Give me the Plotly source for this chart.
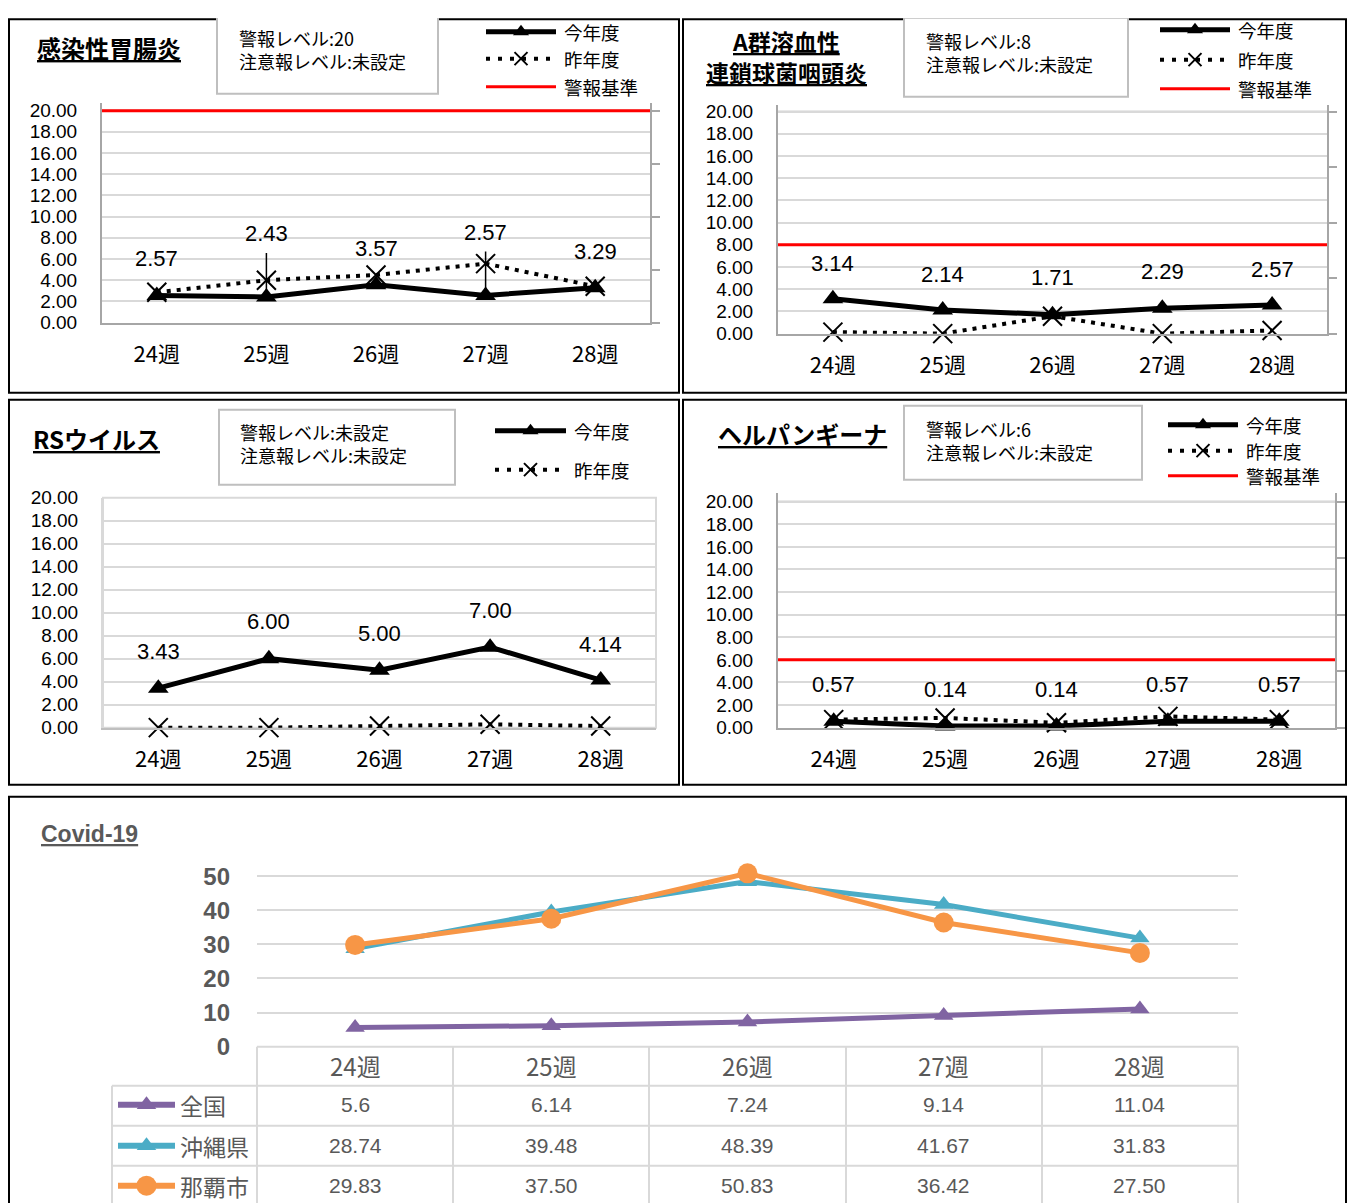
import plotly.graph_objects as go

# ---------------- data ----------------
weeks = ["24週", "25週", "26週", "27週", "28週"]

gastro_this = [2.57, 2.43, 3.57, 2.57, 3.29]
gastro_last = [2.86, 4.00, 4.50, 5.57, 3.43]
gastro_alert = 20

strep_this = [3.14, 2.14, 1.71, 2.29, 2.57]
strep_last = [0.14, 0.00, 1.57, 0.00, 0.29]
strep_alert = 8

rsv_this = [3.43, 6.00, 5.00, 7.00, 4.14]
rsv_last = [0.00, 0.00, 0.14, 0.29, 0.14]

herp_this = [0.57, 0.14, 0.14, 0.57, 0.57]
herp_last = [0.71, 0.86, 0.43, 1.00, 0.71]
herp_alert = 6

covid_names = ["全国", "沖縄県", "那覇市"]
covid_nat = [5.6, 6.14, 7.24, 9.14, 11.04]
covid_oki = [28.74, 39.48, 48.39, 41.67, 31.83]
covid_naha = [29.83, 37.50, 50.83, 36.42, 27.50]

# ---------------- geometry helpers ----------------
W, H = 1339, 1212
OFFX = 8          # page offset of the figure (x)
SY, OY = 0.981, 17.7   # observed vertical photo scale / page offset


def fx(X):
    return (X - OFFX) / W


def fy(Y):
    return 1 - (Y / SY - OY) / H


NUM = "Liberation Sans, Arial, sans-serif"
JP = "Noto Sans CJK JP, sans-serif"
GRID = "#d9d9d9"
AX = "#a6a6a6"
GREY_TXT = "#595959"

fig = go.Figure()
layout = dict(
    width=W, height=H, margin=dict(l=0, r=0, t=0, b=0),
    paper_bgcolor="white", plot_bgcolor="rgba(0,0,0,0)",
    showlegend=False,
)
shapes = []
annotations = []

OV_X, OV_Y = "x9", "y9"   # overlay axes in reference-picture pixels
layout["xaxis9"] = dict(domain=[0, 1], range=[OFFX, OFFX + W], visible=False, fixedrange=True)
layout["yaxis9"] = dict(domain=[0, 1], range=[SY * (H + OY), SY * OY], visible=False, fixedrange=True)


def ov_text(x, y, text, size, color="black", family=JP, xanchor="left", weight=None):
    f = dict(family=family, size=size, color=color)
    if weight:
        f["weight"] = weight
    annotations.append(dict(xref=OV_X, yref=OV_Y, x=x, y=y, text=text, showarrow=False,
                            xanchor=xanchor, yanchor="middle", align=xanchor if xanchor != "center" else "center",
                            font=f))


def ov_rect(x0, y0, x1, y1, color, width, fill="rgba(0,0,0,0)"):
    shapes.append(dict(type="rect", xref=OV_X, yref=OV_Y, x0=x0, y0=y0, x1=x1, y1=y1,
                       line=dict(color=color, width=width), fillcolor=fill, layer="below"))


def ov_line(x0, y0, x1, y1, color, width, dash="solid"):
    shapes.append(dict(type="line", xref=OV_X, yref=OV_Y, x0=x0, y0=y0, x1=x1, y1=y1,
                       line=dict(color=color, width=width, dash=dash)))


def legend_item(x0, x1, y, kind, label):
    if kind == "this":
        ov_line(x0, y, x1, y, "black", 5)
        fig.add_trace(go.Scatter(x=[(x0 + x1) / 2], y=[y], xaxis=OV_X, yaxis=OV_Y, mode="markers",
                                 marker=dict(symbol="triangle-up", size=14, color="black"),
                                 hoverinfo="skip"))
    elif kind == "last":
        fig.add_trace(go.Scatter(x=[x0, x1], y=[y, y], xaxis=OV_X, yaxis=OV_Y, mode="lines",
                                 line=dict(color="black", width=4, dash="4px,8px"), hoverinfo="skip"))
        fig.add_trace(go.Scatter(x=[(x0 + x1) / 2], y=[y], xaxis=OV_X, yaxis=OV_Y, mode="markers",
                                 marker=dict(symbol="x-thin", size=13, line=dict(width=2, color="black")),
                                 hoverinfo="skip"))
    else:
        ov_line(x0, y, x1, y, "#ff0000", 3)
    ov_text(x1 + 6, y, label, 18.5)


def panel(n, yr, px_x0, px_x1, y0, y20, ext, this, last, alert, offsets, right_axis,
          box=False, leaders=()):
    xa = "x" if n == 1 else f"x{n}"
    ya = "y" if n == 1 else f"y{n}"
    scale = (y0 - y20) / 20.0
    top = 20 + ext / scale
    dom_y = [fy(y0), fy(y20 - ext)]
    lc = GRID if box else AX
    layout["xaxis" if n == 1 else f"xaxis{n}"] = dict(
        domain=[fx(px_x0), fx(px_x1)], anchor=ya, type="category", range=[-0.5, 4.5],
        showline=True, linecolor=AX if not box else "#bfbfbf", linewidth=2, mirror=False,
        showgrid=False, ticks="", tickfont=dict(family=JP, size=22, color="black"),
        ticklabelstandoff=11, fixedrange=True)
    layout["yaxis" if n == 1 else f"yaxis{n}"] = dict(
        domain=dom_y, anchor=xa, range=[0, top], tickvals=[0, 2, 4, 6, 8, 10, 12, 14, 16, 18, 20],
        tickformat=".2f", showgrid=True, gridcolor=GRID, gridwidth=2, zeroline=False,
        showline=True, linecolor=lc, linewidth=2, ticks="",
        tickfont=dict(family=NUM, size=19, color="black"), ticklabelstandoff=19, fixedrange=True)
    if box:
        shapes.append(dict(type="rect", xref=f"{xa} domain", yref=f"{ya} domain", x0=0, x1=1,
                           y0=0, y1=1, line=dict(color=GRID, width=2), layer="below"))
    else:
        shapes.append(dict(type="line", xref=f"{xa} domain", yref=ya, x0=0, x1=1, y0=20, y1=20,
                           line=dict(color=AX, width=2), layer="below"))
    if right_axis:
        layout[f"yaxis{yr}"] = dict(
            overlaying=ya, side="right", anchor=xa, range=[0, 4 * top / 20],
            tickvals=[0, 1, 2, 3, 4], ticks="outside", ticklen=8, tickwidth=2, tickcolor=AX,
            showline=True, linecolor=AX, linewidth=2, showticklabels=False, showgrid=False,
            zeroline=False, fixedrange=True)
        fig.add_trace(go.Scatter(x=weeks, y=[0] * 5, xaxis=xa, yaxis=f"y{yr}", mode="markers",
                                 marker=dict(opacity=0), hoverinfo="skip"))
    if alert is not None:
        shapes.append(dict(type="line", xref=f"{xa} domain", yref=ya, x0=0, x1=1, y0=alert, y1=alert,
                           line=dict(color="#ff0000", width=3)))
    for i in leaders:
        shapes.append(dict(type="line", xref=xa, yref=ya, x0=weeks[i], x1=weeks[i],
                           ysizemode="pixel", yanchor=this[i], y0=6, y1=(offsets[i] - 19) / SY,
                           line=dict(color="black", width=1.5)))
    fig.add_trace(go.Scatter(x=weeks, y=last, xaxis=xa, yaxis=ya, mode="lines+markers",
                             line=dict(color="black", width=4, dash="4px,6px"),
                             marker=dict(symbol="x-thin", size=19, line=dict(width=2, color="black")),
                             cliponaxis=False, hoverinfo="skip"))
    fig.add_trace(go.Scatter(x=weeks, y=this, xaxis=xa, yaxis=ya, mode="lines+markers",
                             line=dict(color="black", width=5),
                             marker=dict(symbol="triangle-up", size=18, color="black"),
                             cliponaxis=False, hoverinfo="skip"))
    for i, v in enumerate(this):
        annotations.append(dict(xref=xa, yref=ya, x=weeks[i], y=v, yshift=offsets[i] / SY,
                                text=f"{v:.2f}", showarrow=False,
                                font=dict(family=NUM, size=22, color="black")))


TOPB = SY * (OY + 1.2)
# panel borders
ov_rect(9, TOPB, 679, 392, "black", 2)
ov_rect(683, TOPB, 1346, 392, "black", 2)
ov_rect(9, 399, 679, 784, "black", 2)
ov_rect(683, 399, 1346, 784, "black", 2)
ov_rect(9, 796, 1346, 1240, "black", 2)

# ---- panel 1 感染性胃腸炎
panel(1, 6, 102, 650, 322, 110, 8, gastro_this, gastro_last, gastro_alert,
      [36, 62, 36, 62, 36], True, leaders=(1, 3))
ov_text(35, 47, "<b><u>感染性胃腸炎</u></b>", 24)
ov_rect(217, 14, 438, 93, "#bfbfbf", 2, "white")
ov_text(237, 48.5, "警報レベル:20<br>注意報レベル:未設定", 18)
legend_item(486, 556, 31, "this", "今年度")
legend_item(486, 556, 58, "last", "昨年度")
legend_item(486, 556, 86, "alert", "警報基準")

# ---- panel 2 A群溶血性連鎖球菌咽頭炎
panel(2, 7, 778, 1327, 333, 111, 7, strep_this, strep_last, strep_alert,
      [35, 35, 36, 36, 35], True)
ov_text(786, 40, "<b><u>A群溶血性</u></b>", 23, xanchor="center")
ov_text(786, 71, "<b><u>連鎖球菌咽頭炎</u></b>", 23, xanchor="center")
ov_rect(904, 17, 1128, 96, "#bfbfbf", 2, "white")
ov_text(924, 52, "警報レベル:8<br>注意報レベル:未設定", 18)
legend_item(1160, 1230, 29, "this", "今年度")
legend_item(1160, 1230, 59, "last", "昨年度")
legend_item(1160, 1230, 88, "alert", "警報基準")

# ---- panel 3 RSウイルス
panel(3, None, 103, 656, 727, 497, 0, rsv_this, rsv_last, None,
      [36, 36, 36, 36, 35], False, box=True)
ov_text(31, 438, "<b><u>RSウイルス</u></b>", 24)
ov_rect(219, 409, 455, 484, "#bfbfbf", 2, "white")
ov_text(238, 443, "警報レベル:未設定<br>注意報レベル:未設定", 18)
legend_item(495, 566, 430, "this", "今年度")
legend_item(495, 566, 469, "last", "昨年度")

# ---- panel 4 ヘルパンギーナ
panel(4, 8, 778, 1335, 727, 501, 9, herp_this, herp_last, herp_alert,
      [36, 36, 36, 36, 36], True)
ov_text(716, 433, "<b><u>ヘルパンギーナ</u></b>", 24)
ov_rect(904, 405, 1142, 479, "#bfbfbf", 2, "white")
ov_text(924, 440, "警報レベル:6<br>注意報レベル:未設定", 18)
legend_item(1168, 1238, 424, "this", "今年度")
legend_item(1168, 1238, 450, "last", "昨年度")
legend_item(1168, 1238, 475, "alert", "警報基準")

# ---- panel 5 Covid-19
c_y0, c_scale = 1046, 3.41
c_top = 52
layout["xaxis5"] = dict(domain=[fx(257), fx(1238)], anchor="y5", type="category", range=[-0.5, 4.5],
                        showline=False, showgrid=False, showticklabels=False, ticks="", fixedrange=True)
layout["yaxis5"] = dict(domain=[fy(c_y0), fy(c_y0 - c_top * c_scale)], anchor="x5", range=[0, c_top],
                        tickvals=[0, 10, 20, 30, 40, 50], showgrid=True, gridcolor=GRID, gridwidth=2,
                        zeroline=False, showline=False, ticks="",
                        tickfont=dict(family=NUM, size=24, color=GREY_TXT, weight="bold"),
                        ticklabelstandoff=26, fixedrange=True)
ov_text(39, 833, "<b><u>Covid-19</u></b>", 23, color=GREY_TXT, family=NUM)

covid_series = [
    (covid_nat, "#8064a2", "triangle-up", 17, lambda v: f"{v:g}"),
    (covid_oki, "#4bacc6", "triangle-up", 17, lambda v: f"{v:.2f}"),
    (covid_naha, "#f79646", "circle", 20, lambda v: f"{v:.2f}"),
]
for vals, col, sym, msz, fmt in covid_series:
    fig.add_trace(go.Scatter(x=weeks, y=vals, xaxis="x5", yaxis="y5", mode="lines+markers",
                             line=dict(color=col, width=5), marker=dict(symbol=sym, size=msz, color=col),
                             cliponaxis=False, hoverinfo="skip"))

# data table
row_y = [1065, 1104, 1145, 1185]
row_edges = [1046, 1085, 1125, 1165, 1240]
col_edges = [257, 453, 649, 846, 1042, 1238]
ov_line(257, 1046, 1238, 1046, GRID, 2)
for yy in row_edges[1:4]:
    ov_line(112, yy, 1238, yy, GRID, 2)
ov_line(112, 1085, 112, 1240, GRID, 2)
for xx in col_edges:
    ov_line(xx, 1046, xx, 1240, GRID, 2)
for i, w in enumerate(weeks):
    annotations.append(dict(xref="x5", yref=OV_Y, x=w, y=row_y[0], text=w, showarrow=False,
                            font=dict(family=JP, size=24, color=GREY_TXT)))
for r, (vals, col, sym, msz, fmt) in enumerate(covid_series):
    yy = row_y[r + 1]
    for i, v in enumerate(vals):
        annotations.append(dict(xref="x5", yref=OV_Y, x=weeks[i], y=yy, text=fmt(v), showarrow=False,
                                font=dict(family=NUM, size=21, color=GREY_TXT)))
    fig.add_trace(go.Scatter(x=[118, 175], y=[yy, yy], xaxis=OV_X, yaxis=OV_Y, mode="lines",
                             line=dict(color=col, width=6), hoverinfo="skip"))
    fig.add_trace(go.Scatter(x=[146.5], y=[yy], xaxis=OV_X, yaxis=OV_Y, mode="markers",
                             marker=dict(symbol=sym, size=msz, color=col), hoverinfo="skip"))
    ov_text(178, yy, covid_names[r], 23, color=GREY_TXT)

layout["shapes"] = shapes
layout["annotations"] = annotations
fig.update_layout(**layout)
fig.write_html("out.html")
